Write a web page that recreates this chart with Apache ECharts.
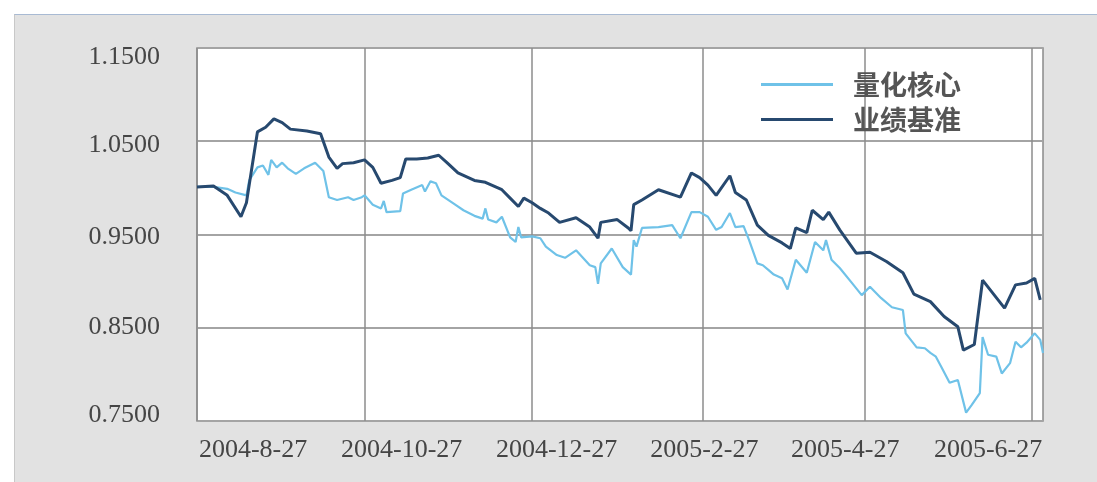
<!DOCTYPE html>
<html>
<head>
<meta charset="utf-8">
<title>量化核心 vs 业绩基准</title>
<script src="https://cdn.jsdelivr.net/npm/echarts@6/dist/echarts.min.js"></script>
<style>
    html, body { margin: 0; padding: 0; background: #fff; }
    #chart {
        position: absolute; left: 14px; top: 14px; width: 1083px; height: 468px;
        background: #e2e2e2; border-top: 1px solid #a8bad3; border-left: 1px solid #c8c8c8;
        box-sizing: border-box;
    }
</style>
</head>
<body>
<div id="chart"></div>
<script>
// x values are days counted from 2004-8-27
const startDate = '2004-08-27';
const endDay = 308;

// vertical grid lines (every two months) and their labels
const gridDates = ['2004-08-27', '2004-10-27', '2004-12-27', '2005-02-27', '2005-04-27', '2005-06-27'];
const xLabels = ['2004-8-27', '2004-10-27', '2004-12-27', '2005-2-27', '2005-4-27', '2005-6-27'];
const yTicks = [0.75, 0.85, 0.95, 1.05, 1.15];

// 量化核心 (light line)
const coreDay = [0, 6, 11, 14, 18, 19, 22, 24, 26, 27, 29, 31, 33, 36, 39, 43, 46, 48, 51, 55,
    57, 60, 61, 64, 67, 68, 69, 74, 75, 78, 82, 83, 85, 87, 89, 94, 97, 101, 104, 105,
    106, 109, 111, 114, 116, 117, 118, 122, 125, 127, 131, 134, 138, 143, 145, 146, 147, 151, 155, 158,
    159, 160, 162, 168, 173, 176, 180, 183, 186, 189, 191, 194, 196, 199, 201, 204, 206, 208, 210, 213,
    215, 218, 222, 225, 228, 229, 231, 234, 239, 242, 245, 249, 253, 257, 258, 262, 265, 267, 269, 271,
    274, 277, 280, 282, 285, 286, 288, 291, 293, 296, 298, 300, 302, 305, 307, 308];
const coreVal = [1.001, 1.001, 0.999, 0.995, 0.992, 1.008, 1.022, 1.024, 1.014, 1.030, 1.022, 1.027, 1.021, 1.015, 1.021, 1.027, 1.018, 0.990, 0.987, 0.990,
    0.987, 0.990, 0.992, 0.982, 0.978, 0.986, 0.974, 0.975, 0.994, 0.998, 1.003, 0.996, 1.007, 1.005, 0.992, 0.982, 0.976, 0.970, 0.967, 0.978,
    0.966, 0.963, 0.969, 0.947, 0.942, 0.958, 0.947, 0.948, 0.946, 0.937, 0.928, 0.925, 0.933, 0.917, 0.915, 0.897, 0.919, 0.935, 0.915, 0.907,
    0.944, 0.937, 0.957, 0.958, 0.960, 0.946, 0.974, 0.974, 0.969, 0.955, 0.958, 0.973, 0.958, 0.959, 0.944, 0.919, 0.917, 0.912, 0.907, 0.903,
    0.891, 0.923, 0.909, 0.942, 0.933, 0.944, 0.923, 0.914, 0.896, 0.885, 0.894, 0.882, 0.872, 0.869, 0.844, 0.829, 0.828, 0.823, 0.819, 0.808,
    0.791, 0.794, 0.759, 0.767, 0.780, 0.840, 0.821, 0.819, 0.801, 0.812, 0.835, 0.829, 0.834, 0.844, 0.837, 0.823];

// 业绩基准 (dark line)
const benchDay = [0, 6, 11, 16, 18, 22, 25, 28, 31, 34, 40, 45, 48, 51, 53, 57, 61, 64, 67, 71,
    74, 76, 80, 84, 88, 91, 95, 101, 105, 111, 114, 117, 119, 122, 125, 128, 132, 138, 143, 146,
    147, 153, 157, 158, 159, 162, 168, 176, 180, 183, 186, 189, 194, 196, 200, 204, 208, 213, 216, 218,
    222, 224, 228, 230, 234, 240, 245, 251, 257, 261, 267, 272, 277, 279, 283, 286, 294, 298, 302, 305, 307];
const benchVal = [1.001, 1.002, 0.992, 0.969, 0.984, 1.060, 1.065, 1.074, 1.070, 1.063, 1.061, 1.058, 1.033, 1.021, 1.026, 1.027, 1.030, 1.022, 1.005, 1.008,
    1.011, 1.031, 1.031, 1.032, 1.035, 1.027, 1.016, 1.008, 1.006, 0.998, 0.989, 0.980, 0.989, 0.984, 0.978, 0.973, 0.963, 0.968, 0.958, 0.946,
    0.963, 0.966, 0.957, 0.954, 0.982, 0.987, 0.998, 0.990, 1.016, 1.011, 1.003, 0.992, 1.013, 0.995, 0.987, 0.960, 0.949, 0.941, 0.935, 0.957,
    0.952, 0.976, 0.966, 0.974, 0.955, 0.930, 0.931, 0.921, 0.909, 0.886, 0.878, 0.862, 0.851, 0.826, 0.832, 0.901, 0.871, 0.896, 0.898, 0.903, 0.880];

// where the labels sit in the original picture (they are not centred on the grid lines)
const xLabelAt = [20.4, 74.5, 130.9, 184.7, 236, 288];
const yLabelAt = [0.7564, 0.8508, 0.9473, 1.046, 1.1403];

const dayMs = 24 * 3600 * 1000;
function toDay(s) {
    return Math.round((new Date(s) - new Date(startDate)) / dayMs);
}

const chart = echarts.init(document.getElementById('chart'));

const labelFont = {
    fontFamily: '"Liberation Serif", "DejaVu Serif", serif',
    fontSize: 26,
    color: '#454545'
};

chart.setOption({
    animation: false,
    grid: {
        left: 182, top: 33, right: 54, bottom: 61,
        show: true, backgroundColor: '#fff', borderColor: '#8a8a8a', borderWidth: 1.5
    },
    legend: {
        orient: 'vertical',
        left: 741,
        top: 51,
        itemWidth: 72,
        itemHeight: 3,
        itemGap: 8,
        icon: 'rect',
        textStyle: {
            fontFamily: '"Noto Sans CJK SC", sans-serif',
            fontSize: 27,
            fontWeight: 'bold',
            color: '#555',
            padding: [0, 0, 0, 15]
        },
        data: ['量化核心', '业绩基准']
    },
    xAxis: [
        {
            type: 'value', min: 0, max: endDay,
            axisLine: { show: false },
            axisTick: { show: false, customValues: gridDates.map(toDay) },
            axisLabel: { show: false },
            splitLine: { show: true, lineStyle: { color: '#8c8c8c', width: 1.5 } }
        },
        {
            type: 'value', min: 0, max: endDay, position: 'bottom',
            axisLine: { show: false },
            axisTick: { show: false },
            splitLine: { show: false },
            axisLabel: Object.assign({
                customValues: xLabelAt,
                margin: 16,
                formatter: v => xLabels[xLabelAt.indexOf(v)]
            }, labelFont)
        }
    ],
    yAxis: [
        {
            type: 'value', min: 0.75, max: 1.15,
            axisLine: { show: false },
            axisTick: { show: false, customValues: yTicks },
            axisLabel: { show: false },
            splitLine: { show: true, lineStyle: { color: '#a4a4a4', width: 2 } }
        },
        {
            type: 'value', min: 0.75, max: 1.15, position: 'left',
            axisLine: { show: false },
            axisTick: { show: false },
            splitLine: { show: false },
            axisLabel: Object.assign({
                customValues: yLabelAt,
                margin: 37,
                formatter: v => yTicks[yLabelAt.indexOf(v)].toFixed(4)
            }, labelFont)
        }
    ],
    series: [
        {
            name: '量化核心',
            type: 'line',
            symbol: 'none',
            itemStyle: { color: '#6fc2e8' },
            lineStyle: { color: '#6fc2e8', width: 2.2 },
            data: coreDay.map((d, i) => [d, coreVal[i]])
        },
        {
            name: '业绩基准',
            type: 'line',
            symbol: 'none',
            itemStyle: { color: '#27496f' },
            lineStyle: { color: '#27496f', width: 3 },
            data: benchDay.map((d, i) => [d, benchVal[i]])
        }
    ]
});
</script>
</body>
</html>
